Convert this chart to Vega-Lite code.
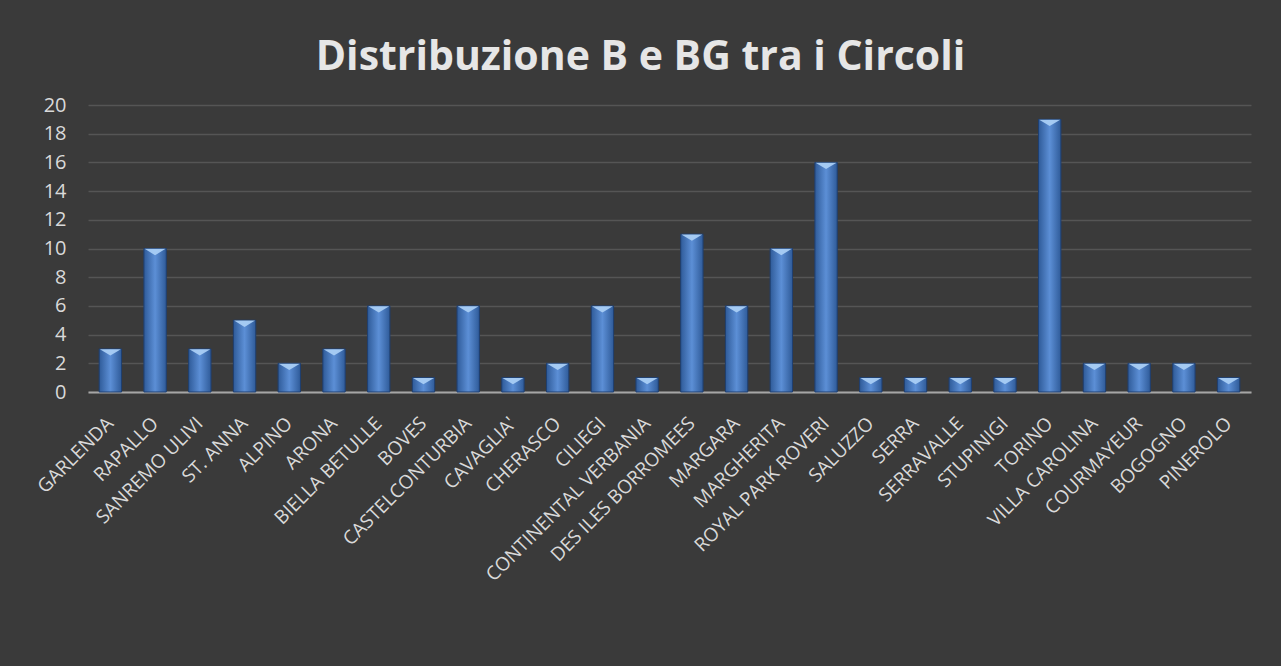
{
  "$schema": "https://vega.github.io/schema/vega-lite/v6.json",
  "width": 1163,
  "height": 287,
  "autosize": {"type": "none"},
  "padding": {"left": 88, "top": 105, "right": 30, "bottom": 274},
  "background": "#3a3a3a",
  "title": {
    "text": "Distribuzione B e BG tra i Circoli",
    "font": "Open Sans",
    "fontSize": 41,
    "fontWeight": "bold",
    "color": "#e6e6e6",
    "anchor": "middle",
    "dx": -29,
    "offset": 16
  },
  "data": {
    "values": [
      {"circolo": "GARLENDA", "n": 3},
      {"circolo": "RAPALLO", "n": 10},
      {"circolo": "SANREMO ULIVI", "n": 3},
      {"circolo": "ST. ANNA", "n": 5},
      {"circolo": "ALPINO", "n": 2},
      {"circolo": "ARONA", "n": 3},
      {"circolo": "BIELLA BETULLE", "n": 6},
      {"circolo": "BOVES", "n": 1},
      {"circolo": "CASTELCONTURBIA", "n": 6},
      {"circolo": "CAVAGLIA'", "n": 1},
      {"circolo": "CHERASCO", "n": 2},
      {"circolo": "CILIEGI", "n": 6},
      {"circolo": "CONTINENTAL VERBANIA", "n": 1},
      {"circolo": "DES ILES BORROMEES", "n": 11},
      {"circolo": "MARGARA", "n": 6},
      {"circolo": "MARGHERITA", "n": 10},
      {"circolo": "ROYAL PARK ROVERI", "n": 16},
      {"circolo": "SALUZZO", "n": 1},
      {"circolo": "SERRA", "n": 1},
      {"circolo": "SERRAVALLE", "n": 1},
      {"circolo": "STUPINIGI", "n": 1},
      {"circolo": "TORINO", "n": 19},
      {"circolo": "VILLA CAROLINA", "n": 2},
      {"circolo": "COURMAYEUR", "n": 2},
      {"circolo": "BOGOGNO", "n": 2},
      {"circolo": "PINEROLO", "n": 1}
    ]
  },
  "encoding": {
    "x": {
      "field": "circolo",
      "type": "nominal",
      "sort": null,
      "scale": {"paddingInner": 0.5, "paddingOuter": 0.25},
      "axis": {
        "title": null,
        "labelAngle": -45,
        "labelAlign": "right",
        "labelBaseline": "middle",
        "labelFont": "Open Sans",
        "labelFontSize": 19,
        "labelColor": "#d9d9d9",
        "labelPadding": 28,
        "labelLimit": 400,
        "ticks": false,
        "domainColor": "#a6a6a6",
        "domainWidth": 2,
        "grid": false
      }
    },
    "y": {
      "field": "n",
      "type": "quantitative",
      "scale": {"domain": [0, 20]},
      "axis": {
        "title": null,
        "values": [0, 2, 4, 6, 8, 10, 12, 14, 16, 18, 20],
        "labelFont": "Open Sans",
        "labelFontSize": 20,
        "labelColor": "#d9d9d9",
        "labelPadding": 22,
        "ticks": false,
        "domain": false,
        "grid": true,
        "gridColor": "#555555",
        "gridWidth": 1.5
      }
    }
  },
  "layer": [
    {
      "mark": {
        "type": "bar",
        "color": {
          "gradient": "linear",
          "x1": 0, "x2": 1, "y1": 0, "y2": 0,
          "stops": [
            {"offset": 0, "color": "#2f5b99"},
            {"offset": 0.5, "color": "#5c8fd6"},
            {"offset": 1, "color": "#2f5b99"}
          ]
        },
        "stroke": "#1f3f70",
        "strokeWidth": 1
      }
    },
    {
      "mark": {
        "type": "point",
        "shape": "M-1,-0.3L1,-0.3L0,0.3Z",
        "filled": true,
        "size": 440,
        "color": "#a9cdf4",
        "opacity": 0.95,
        "yOffset": 3.5
      }
    }
  ],
  "config": {"view": {"stroke": null}}
}
